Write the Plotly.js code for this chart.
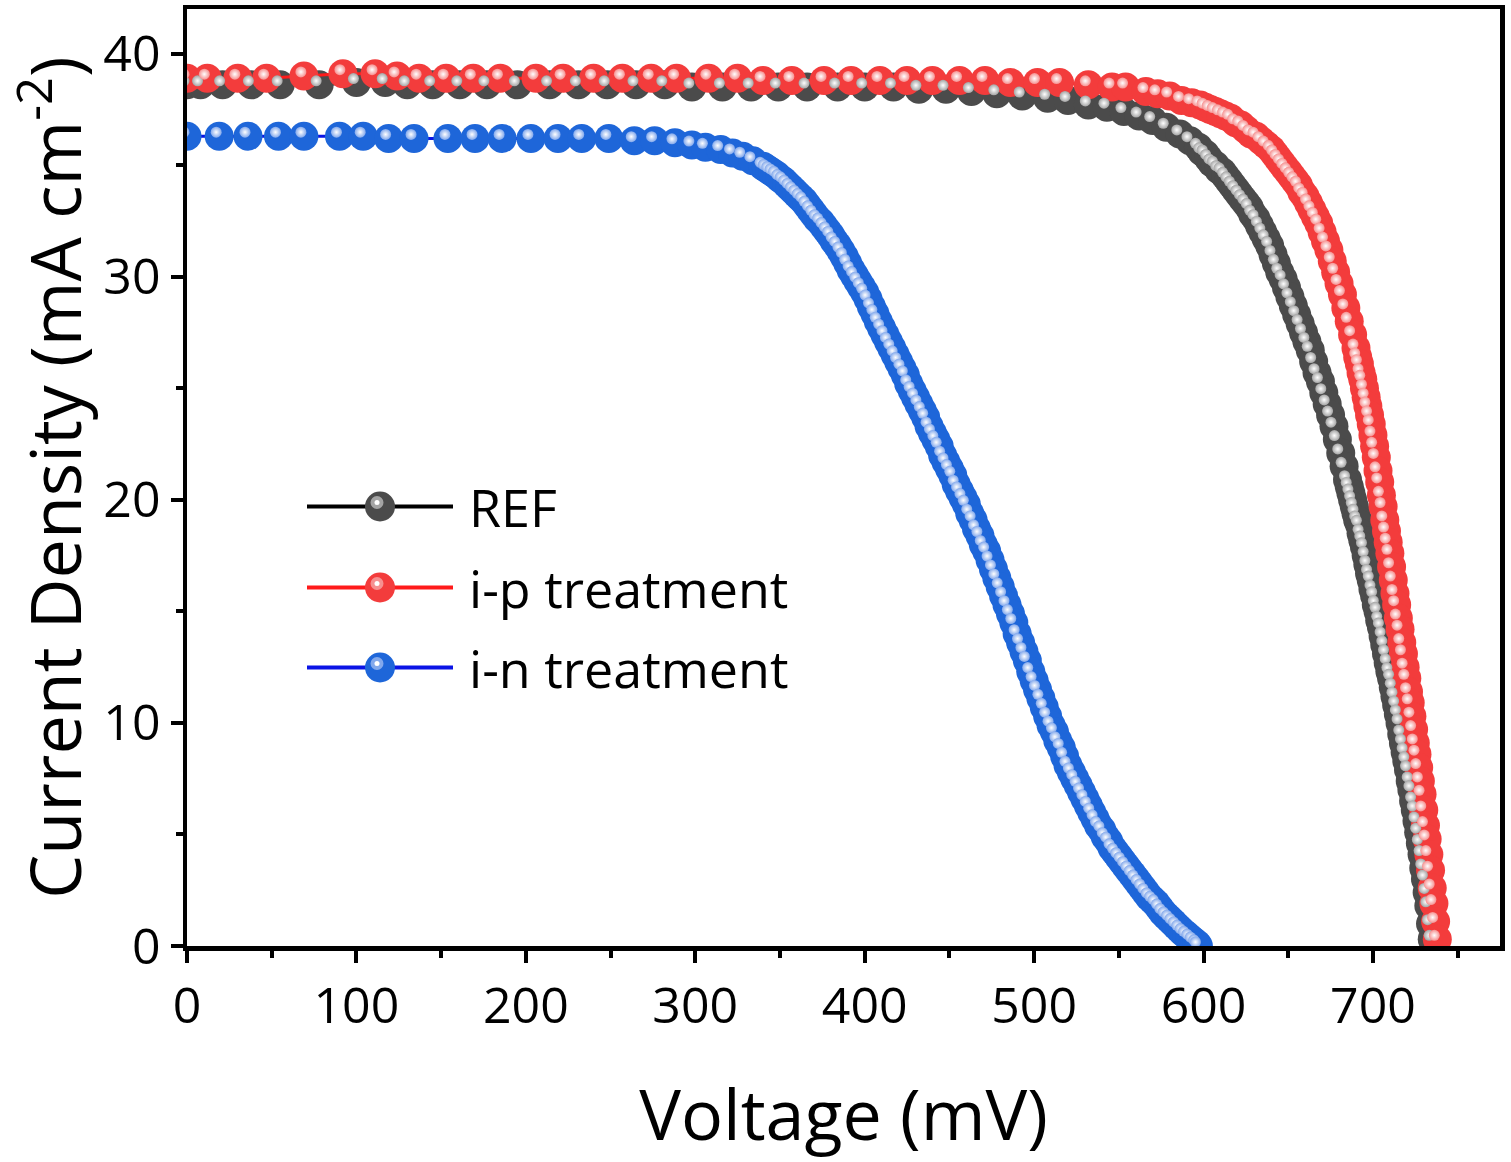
<!DOCTYPE html>
<html>
<head>
<meta charset="utf-8">
<script src="https://cdn.plot.ly/plotly-3.0.1.min.js"></script>
<style>
html,body{margin:0;padding:0;background:#ffffff;}
#chart{width:1511px;height:1162px;}
</style>
</head>
<body>
<div id="chart"></div>
<script>
// ---------- data ----------
const seriesNames = ['REF', 'i-p treatment', 'i-n treatment'];

const refV = [0, 8, 21, 38, 55, 78, 100, 117, 130, 145,
  161, 177, 195, 214, 231, 248, 265, 282, 298, 316,
  333, 349, 366, 384, 400, 417, 432, 448, 463, 478,
  493, 508, 520, 532, 543, 553, 562, 570, 578, 586,
  592, 597, 599, 601, 603, 605, 607, 609, 611, 613,
  615, 617, 619, 621, 623, 625, 627, 629, 631, 633,
  635, 637, 639, 641, 643, 645, 647, 649, 651, 653,
  655, 657, 659, 661, 663, 665, 667, 669, 671, 673,
  675, 677, 679, 681, 683, 685, 686, 687, 688, 689,
  690, 691, 692, 693, 694, 695, 696, 697, 698, 699,
  700, 701, 702, 703, 704, 705, 706, 707, 708, 709,
  710, 711, 712, 713, 714, 715, 716, 717, 718, 719,
  720, 721, 722, 723, 724, 725, 726, 727, 728, 729,
  730, 731, 732, 733, 734, 735];
const refJ = [38.6, 38.6, 38.6, 38.6, 38.6, 38.6, 38.7, 38.7, 38.6, 38.6,
  38.6, 38.6, 38.6, 38.6, 38.6, 38.6, 38.6, 38.6, 38.5, 38.5,
  38.5, 38.5, 38.5, 38.5, 38.5, 38.5, 38.4, 38.4, 38.3, 38.2,
  38.1, 38.0, 37.9, 37.7, 37.6, 37.4, 37.2, 37.0, 36.7, 36.4,
  36.1, 35.8, 35.6, 35.5, 35.3, 35.1, 35.0, 34.8, 34.7, 34.5,
  34.3, 34.1, 33.9, 33.7, 33.5, 33.3, 33.1, 32.8, 32.6, 32.3,
  32.0, 31.7, 31.4, 31.0, 30.6, 30.2, 29.9, 29.5, 29.1, 28.7,
  28.3, 27.9, 27.5, 27.1, 26.7, 26.2, 25.7, 25.3, 24.8, 24.3,
  23.8, 23.3, 22.7, 22.1, 21.5, 20.9, 20.6, 20.3, 20.0, 19.7,
  19.4, 19.1, 18.9, 18.5, 18.2, 17.9, 17.5, 17.1, 16.7, 16.4,
  16.0, 15.7, 15.3, 15.0, 14.6, 14.3, 13.9, 13.5, 13.1, 12.7,
  12.3, 12.0, 11.6, 11.2, 10.8, 10.4, 10.0, 9.5, 9.1, 8.7,
  8.3, 7.9, 7.4, 7.0, 6.5, 6.1, 5.6, 5.1, 4.6, 4.1,
  3.5, 3.0, 2.4, 1.8, 1.0, 0.3];

const ipV = [0, 12, 30, 47, 69, 92, 111, 124, 137, 153,
  169, 185, 206, 222, 240, 257, 274, 289, 308, 325,
  340, 357, 376, 392, 409, 425, 440, 456, 471, 486,
  502, 515, 532, 546, 554, 566, 573, 580, 587, 593,
  598, 601, 604, 607, 610, 613, 616, 619, 622, 625,
  628, 631, 634, 637, 640, 642, 644, 646, 648, 650,
  652, 654, 656, 658, 660, 662, 664, 666, 668, 670,
  672, 674, 676, 678, 680, 682, 684, 686, 688, 690,
  691, 692, 693, 694, 695, 696, 697, 698, 699, 700,
  701, 702, 703, 704, 705, 706, 707, 708, 709, 710,
  711, 712, 713, 714, 715, 716, 717, 718, 719, 720,
  721, 722, 723, 724, 725, 726, 727, 728, 729, 730,
  731, 732, 733, 734, 735, 736, 737, 738];
const ipJ = [38.9, 38.9, 38.9, 38.9, 39.0, 39.1, 39.1, 39.0, 38.9, 38.9,
  38.9, 38.9, 38.9, 38.9, 38.9, 38.9, 38.9, 38.9, 38.9, 38.9,
  38.8, 38.8, 38.8, 38.8, 38.8, 38.8, 38.8, 38.8, 38.8, 38.7,
  38.7, 38.7, 38.6, 38.5, 38.5, 38.3, 38.2, 38.1, 37.9, 37.8,
  37.7, 37.6, 37.5, 37.4, 37.3, 37.2, 37.1, 36.9, 36.8, 36.6,
  36.4, 36.3, 36.1, 35.9, 35.7, 35.5, 35.3, 35.1, 34.9, 34.7,
  34.5, 34.3, 34.1, 33.8, 33.6, 33.3, 33.0, 32.7, 32.4, 32.0,
  31.6, 31.2, 30.7, 30.2, 29.7, 29.2, 28.6, 28.0, 27.4, 26.8,
  26.4, 26.1, 25.7, 25.4, 25.0, 24.6, 24.2, 23.8, 23.4, 22.9,
  22.4, 21.9, 21.3, 20.8, 20.2, 19.7, 19.1, 18.6, 18.1, 17.6,
  17.0, 16.4, 15.8, 15.3, 14.7, 14.2, 13.6, 13.1, 12.5, 12.0,
  11.4, 10.9, 10.3, 9.7, 9.1, 8.6, 8.0, 7.4, 6.8, 6.1,
  5.4, 4.8, 4.1, 3.4, 2.6, 1.9, 1.1, 0.3];

const inV = [0, 19, 36, 54, 69, 90, 104, 119, 134, 154,
  170, 186, 203, 219, 233, 249, 264, 276, 288, 298,
  306, 315, 322, 328, 334, 340, 342, 344, 346, 348,
  350, 352, 354, 356, 358, 360, 362, 364, 366, 368,
  370, 372, 374, 376, 378, 380, 382, 384, 386, 388,
  390, 392, 394, 396, 398, 400, 402, 404, 406, 408,
  410, 412, 414, 416, 418, 420, 422, 424, 426, 428,
  430, 432, 434, 436, 438, 440, 442, 444, 446, 448,
  450, 452, 454, 456, 458, 460, 462, 464, 466, 468,
  470, 472, 474, 476, 478, 480, 482, 484, 486, 488,
  490, 492, 494, 496, 498, 500, 502, 504, 506, 508,
  510, 512, 514, 516, 518, 520, 522, 524, 526, 528,
  530, 532, 534, 536, 538, 540, 542, 544, 546, 548,
  550, 552, 554, 556, 558, 560, 562, 564, 566, 568,
  570, 572, 574, 576, 578, 580, 582, 584, 586, 588,
  590, 592, 594, 596, 597];
const inJ = [36.3, 36.3, 36.3, 36.3, 36.3, 36.3, 36.3, 36.2, 36.2, 36.2,
  36.2, 36.2, 36.2, 36.2, 36.2, 36.2, 36.1, 36.1, 36.0, 35.9,
  35.8, 35.7, 35.55, 35.4, 35.2, 34.95, 34.85, 34.75, 34.65, 34.55,
  34.4, 34.3, 34.15, 34.0, 33.85, 33.7, 33.55, 33.4, 33.2, 33.0,
  32.8, 32.6, 32.45, 32.25, 32.05, 31.85, 31.6, 31.4, 31.15, 30.9,
  30.6, 30.3, 30.05, 29.8, 29.55, 29.3, 29.0, 28.65, 28.35, 28.0,
  27.7, 27.4, 27.1, 26.8, 26.5, 26.2, 25.9, 25.6, 25.2, 24.9,
  24.6, 24.3, 24.0, 23.7, 23.3, 23.0, 22.7, 22.4, 22.0, 21.7,
  21.4, 21.1, 20.7, 20.4, 20.1, 19.8, 19.4, 19.1, 18.7, 18.4,
  18.0, 17.7, 17.3, 16.9, 16.5, 16.1, 15.7, 15.3, 14.9, 14.5,
  14.0, 13.6, 13.2, 12.8, 12.3, 11.9, 11.5, 11.1, 10.7, 10.3,
  9.9, 9.6, 9.2, 8.9, 8.5, 8.1, 7.8, 7.5, 7.2, 6.9,
  6.6, 6.3, 6.0, 5.7, 5.4, 5.2, 4.9, 4.7, 4.4, 4.2,
  4.0, 3.8, 3.6, 3.4, 3.2, 3.0, 2.8, 2.6, 2.4, 2.2,
  2.05, 1.9, 1.7, 1.5, 1.35, 1.2, 1.05, 0.9, 0.75, 0.6,
  0.48, 0.35, 0.22, 0.1, 0.0];

const xTickVals = [0, 100, 200, 300, 400, 500, 600, 700];
const yTickVals = [0, 10, 20, 30, 40];
const xTitle = 'Voltage (mV)';
const yTitle = 'Current Density (mA cm<sup>-2</sup>)';

// ---------- styling ----------
const FONT = '"Open Sans", "Noto Sans", "DejaVu Sans", sans-serif';
const styles = [
  {fill: '#4b4b4b', ring: '#a4a4a4', line: '#000000'},
  {fill: '#f33c3c', ring: '#f69090', line: '#ff1a1a'},
  {fill: '#1e66d9', ring: '#82a8ec', line: '#0a14e6'}
];
const seriesV = [refV, ipV, inV];
const seriesJ = [refJ, ipJ, inJ];

const X_RANGE = [0, 775];
const Y_RANGE = [0, 42];
// highlight layer is drawn through overlay axes, shifted a few pixels up-left
const PLOT_W = 1511 - 187 - 11;
const PLOT_H = 1162 - 9 - 216;
const dxPx = 3, dyPx = 4;
const dx = dxPx * (X_RANGE[1] - X_RANGE[0]) / PLOT_W;
const dy = dyPx * (Y_RANGE[1] - Y_RANGE[0]) / PLOT_H;

const traces = [];
for (let i = 0; i < 3; i++) {
  traces.push({
    type: 'scatter', mode: 'lines+markers', name: seriesNames[i],
    x: seriesV[i], y: seriesJ[i],
    line: {color: styles[i].line, width: 3},
    marker: {size: 29, color: styles[i].fill, line: {width: 0}},
    showlegend: false, hoverinfo: 'x+y'
  });
  traces.push({
    type: 'scatter', mode: 'markers', name: seriesNames[i] + ' hl',
    x: seriesV[i], y: seriesJ[i], xaxis: 'x2', yaxis: 'y2',
    marker: {size: 11, color: styles[i].ring, line: {width: 0},
             gradient: {type: 'radial', color: '#ffffff'}},
    showlegend: false, hoverinfo: 'skip'
  });
}

// ---------- hand-drawn legend (long lines, sphere markers) ----------
const legX0 = (307 - 187) / PLOT_W, legX1 = (453 - 187) / PLOT_W;
const legMX = (380 - 187) / PLOT_W, legTX = (467 - 187) / PLOT_W;
const legY = [507, 588, 668].map(p => (946.5 - p) / PLOT_H);
const shapes = [], annotations = [];
for (let i = 0; i < 3; i++) {
  shapes.push({type: 'line', xref: 'paper', yref: 'paper', x0: legX0, x1: legX1,
    y0: legY[i], y1: legY[i], line: {color: styles[i].line, width: 4}});
  shapes.push({type: 'circle', xref: 'paper', yref: 'paper', xsizemode: 'pixel', ysizemode: 'pixel',
    xanchor: legMX, yanchor: legY[i], x0: -15, x1: 15, y0: -15, y1: 15,
    fillcolor: styles[i].fill, line: {width: 0}});
  shapes.push({type: 'circle', xref: 'paper', yref: 'paper', xsizemode: 'pixel', ysizemode: 'pixel',
    xanchor: legMX, yanchor: legY[i], x0: -9.5, x1: 3.5, y0: -2.5, y1: 10.5,
    fillcolor: styles[i].ring, line: {width: 0}});
  shapes.push({type: 'circle', xref: 'paper', yref: 'paper', xsizemode: 'pixel', ysizemode: 'pixel',
    xanchor: legMX, yanchor: legY[i], x0: -5.5, x1: -0.5, y0: 1.5, y1: 6.5,
    fillcolor: '#ffffff', line: {width: 0}});
  annotations.push({xref: 'paper', yref: 'paper', x: legTX, y: legY[i],
    xanchor: 'left', yanchor: 'middle', showarrow: false, text: seriesNames[i],
    font: {family: FONT, size: 52, color: '#000000'}});
}

const axisCommon = {
  showgrid: false, zeroline: false, showline: true, linecolor: '#000000', linewidth: 4.5,
  mirror: true, ticks: 'outside', ticklen: 12, tickwidth: 4, tickcolor: '#000000',
  tickfont: {family: FONT, size: 50, color: '#000000'}
};

const layout = {
  width: 1511, height: 1162,
  margin: {l: 187, r: 11, t: 9, b: 216},
  paper_bgcolor: '#ffffff', plot_bgcolor: '#ffffff',
  font: {family: FONT, color: '#000000'},
  showlegend: false,
  xaxis: Object.assign({}, axisCommon, {
    range: X_RANGE, tickmode: 'array', tickvals: xTickVals,
    minor: {dtick: 50, tick0: 0, ticks: 'outside', ticklen: 7, tickwidth: 4, tickcolor: '#000000'},
    title: {text: xTitle, font: {family: FONT, size: 70, color: '#000000'}, standoff: 56}
  }),
  yaxis: Object.assign({}, axisCommon, {
    range: Y_RANGE, tickmode: 'array', tickvals: yTickVals,
    minor: {dtick: 5, tick0: 0, ticks: 'outside', ticklen: 7, tickwidth: 4, tickcolor: '#000000'},
    title: {text: yTitle, font: {family: FONT, size: 70, color: '#000000'}, standoff: 14}
  }),
  xaxis2: {overlaying: 'x', range: [X_RANGE[0] + dx, X_RANGE[1] + dx], visible: false, fixedrange: true},
  yaxis2: {overlaying: 'y', range: [Y_RANGE[0] - dy, Y_RANGE[1] - dy], visible: false, fixedrange: true},
  shapes: shapes,
  annotations: annotations
};

Plotly.newPlot('chart', traces, layout, {displayModeBar: false, staticPlot: true});
</script>
</body>
</html>
